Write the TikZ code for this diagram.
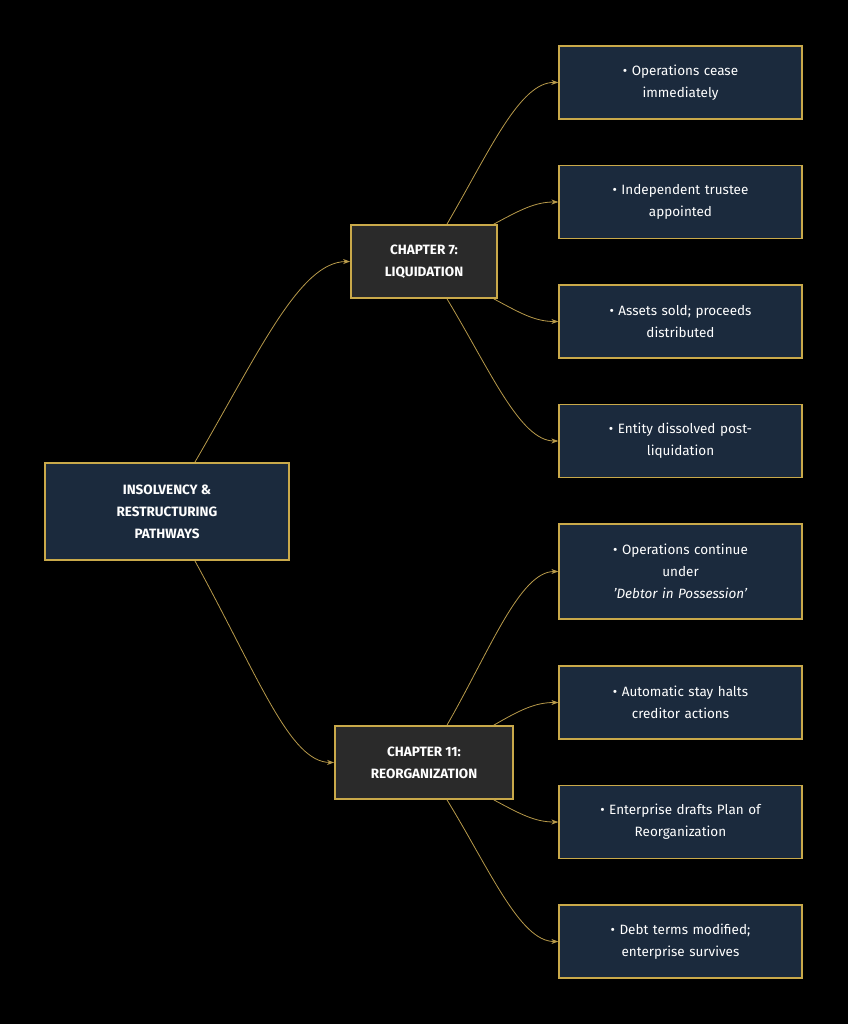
\documentclass[tikz,border=0pt]{standalone}
\usepackage{fontspec}
\setmainfont{Fira Sans}
\usetikzlibrary{arrows.meta}
\definecolor{gold}{HTML}{C9A94A}
\definecolor{edge}{HTML}{B89A4A}
\definecolor{navy}{HTML}{1B2A3D}
\definecolor{dgray}{HTML}{2A2A2A}
\begin{document}
\begin{tikzpicture}[x=1pt,y=-1pt,
  base/.style={draw=gold,line width=1.3pt,text=white,align=center,inner sep=0pt,font=\fontsize{13.5}{22}\selectfont},
  root/.style={base,fill=navy,line width=2pt,minimum width=244pt,minimum height=97pt,font=\fontsize{13.5}{22}\selectfont\bfseries},
  mid/.style={base,fill=dgray,line width=1.8pt,minimum height=73pt,font=\fontsize{13.5}{22}\selectfont\bfseries},
  leaf/.style={base,fill=navy,minimum width=243pt,minimum height=73pt,text width=220pt},
  con/.style={draw=edge,line width=0.8pt,-{Stealth[length=7pt,width=5pt]}}]
\fill[black] (0,0) rectangle (848,1024);
\useasboundingbox (0,0) rectangle (848,1024);
\node[root] (r) at (167,511.5) {INSOLVENCY \&\\RESTRUCTURING\\PATHWAYS};
\node[mid,minimum width=146pt] (c7) at (424,261.5) {CHAPTER 7:\\LIQUIDATION};
\node[mid,minimum width=178pt] (c11) at (424,762.5) {CHAPTER 11:\\REORGANIZATION};
\node[leaf] (a1) at (680.5,82.5) {• Operations cease\\immediately};
\node[leaf] (a2) at (680.5,202) {• Independent trustee\\appointed};
\node[leaf] (a3) at (680.5,321.5) {• Assets sold; proceeds\\distributed};
\node[leaf] (a4) at (680.5,441) {• Entity dissolved post-\\liquidation};
\node[leaf,minimum height=95pt] (b1) at (680.5,571.5) {• Operations continue\\under\\\textit{'Debtor in Possession'}};
\node[leaf] (b2) at (680.5,702.5) {• Automatic stay halts\\creditor actions};
\node[leaf] (b3) at (680.5,822) {• Enterprise drafts Plan of\\Reorganization};
\node[leaf] (b4) at (680.5,941.5) {• Debt terms modified;\\enterprise survives};
\draw[con] ([xshift=28pt]r.north) .. controls (260,350) and (300,262) .. (c7.west);
\draw[con] ([xshift=28pt]r.south) .. controls (260,680) and (290,762) .. (c11.west);
\draw[con] ([xshift=23pt]c7.north) .. controls (490,150) and (520,82) .. (a1.west);
\draw[con] ([xshift=-4pt]c7.north east) .. controls (520,210) and (535,202) .. (a2.west);
\draw[con] ([xshift=-4pt]c7.south east) .. controls (520,313) and (535,321.5) .. (a3.west);
\draw[con] ([xshift=23pt]c7.south) .. controls (490,370) and (520,441) .. (a4.west);
\draw[con] ([xshift=23pt]c11.north) .. controls (490,650) and (520,571.5) .. (b1.west);
\draw[con] ([xshift=-20pt]c11.north east) .. controls (520,710) and (535,702.5) .. (b2.west);
\draw[con] ([xshift=-20pt]c11.south east) .. controls (520,814) and (535,822) .. (b3.west);
\draw[con] ([xshift=23pt]c11.south) .. controls (490,870) and (520,941.5) .. (b4.west);
\end{tikzpicture}
\end{document}
